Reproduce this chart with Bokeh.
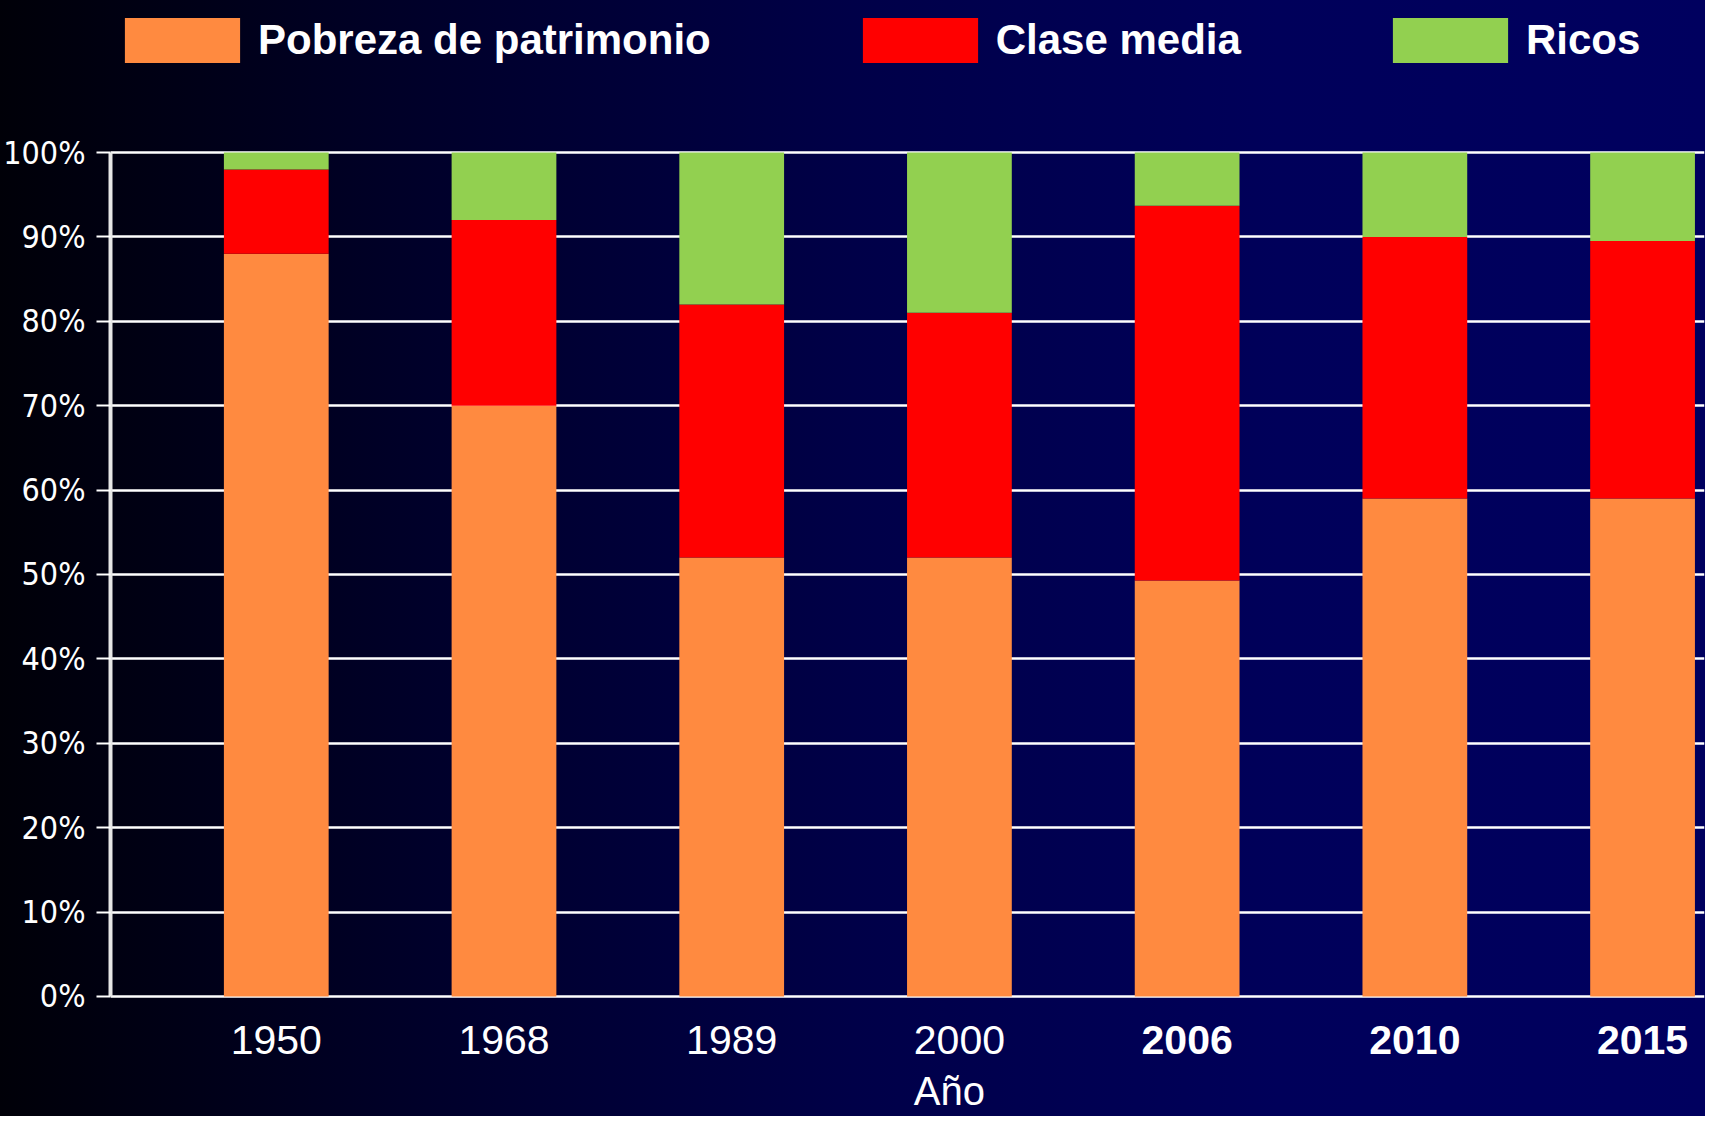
from bokeh.plotting import figure
from bokeh.models import (ColumnDataSource, FactorRange, Range1d, FixedTicker,
                          PrintfTickFormatter, Legend, LegendItem, Label)
from bokeh.transform import dodge
from bokeh.core.properties import value
from bokeh.embed import file_html
from bokeh.resources import INLINE

# ---- data ----
years = ["1950", "1968", "1989", "2000", "2006", "2010", "2015"]
pobreza = [88, 70, 52, 52, 49.3, 59, 59]
clase_media = [10, 22, 30, 29, 44.4, 31, 30.5]
ricos = [2, 8, 18, 19, 6.3, 10, 10.5]
year_weight = ["normal", "normal", "normal", "normal", "bold", "bold", "bold"]
series = ["pobreza", "clase_media", "ricos"]
series_labels = ["Pobreza de patrimonio", "Clase media", "Ricos"]
series_colors = ["#FF8A40", "#FF0000", "#92D050"]
y_ticks = [0, 10, 20, 30, 40, 50, 60, 70, 80, 90, 100]
x_title = "Año"

source = ColumnDataSource(dict(
    year=years, pobreza=pobreza, clase_media=clase_media, ricos=ricos,
    weight=year_weight, label_y=[-5.2] * len(years),
))

W, H = 1705, 1116
SHIFT = 0.228
p = figure(width=W, height=H, x_range=FactorRange(*years),
           y_range=Range1d(-14.22, 118.01), output_backend="svg",
           toolbar_location=None, min_border_left=108, min_border_right=1,
           min_border_top=0, min_border_bottom=0)
p.styles = {"background": "linear-gradient(to right, #000008 0%, #00002a 25%, "
                          "#000048 50%, #00005a 75%, #00005f 100%)"}
p.background_fill_color = None
p.border_fill_color = None
p.outline_line_color = None

xd = dodge("year", SHIFT, range=p.x_range)
renderers = p.vbar_stack(series, x=xd, width=0.46, source=source,
                         color=series_colors, line_color=None)

# year labels (mixed weights)
p.text(x=xd, y="label_y", text="year", source=source, text_align="center",
       text_baseline="middle", text_color="white", text_font_size="41px",
       text_font=value("Liberation Sans"), text_font_style="weight")

# axis title
p.add_layout(Label(x=3.684, y=-11.2, text=x_title, text_align="center",
                   text_baseline="middle", text_color="white", text_font_size="40px",
                   text_font="Liberation Sans"))

# x axis hidden
p.xaxis.visible = False
p.xgrid.grid_line_color = None

# y axis
ya = p.yaxis[0]
ya.ticker = FixedTicker(ticks=y_ticks)
ya.formatter = PrintfTickFormatter(format="%d%%")
ya.bounds = (0, 100)
ya.axis_line_color = "#e6e6e6"
ya.axis_line_width = 4
ya.major_tick_line_color = "white"
ya.major_tick_line_width = 2
ya.major_tick_out = 14
ya.major_tick_in = 0
ya.minor_tick_line_color = None
ya.major_label_standoff = 11
ya.major_label_text_color = "white"
ya.major_label_text_font = "DejaVu Sans Condensed, sans-serif"
ya.major_label_text_font_size = "32px"

p.ygrid.ticker = FixedTicker(ticks=y_ticks)
p.ygrid.grid_line_color = "white"
p.ygrid.grid_line_width = 2.5

legend = Legend(items=[LegendItem(label=l, renderers=[r])
                       for l, r in zip(series_labels, renderers)],
                location="top_left", orientation="horizontal",
                glyph_width=144, glyph_height=56, label_height=80,
                label_standoff=4, spacing=137,
                padding=0, margin=0, border_line_color=None,
                background_fill_alpha=0, label_text_color="white",
                label_text_font="Liberation Sans", label_text_font_style="bold",
                label_text_font_size="42px")
p.add_layout(legend)

open("out.html", "w").write(file_html(p, INLINE))
